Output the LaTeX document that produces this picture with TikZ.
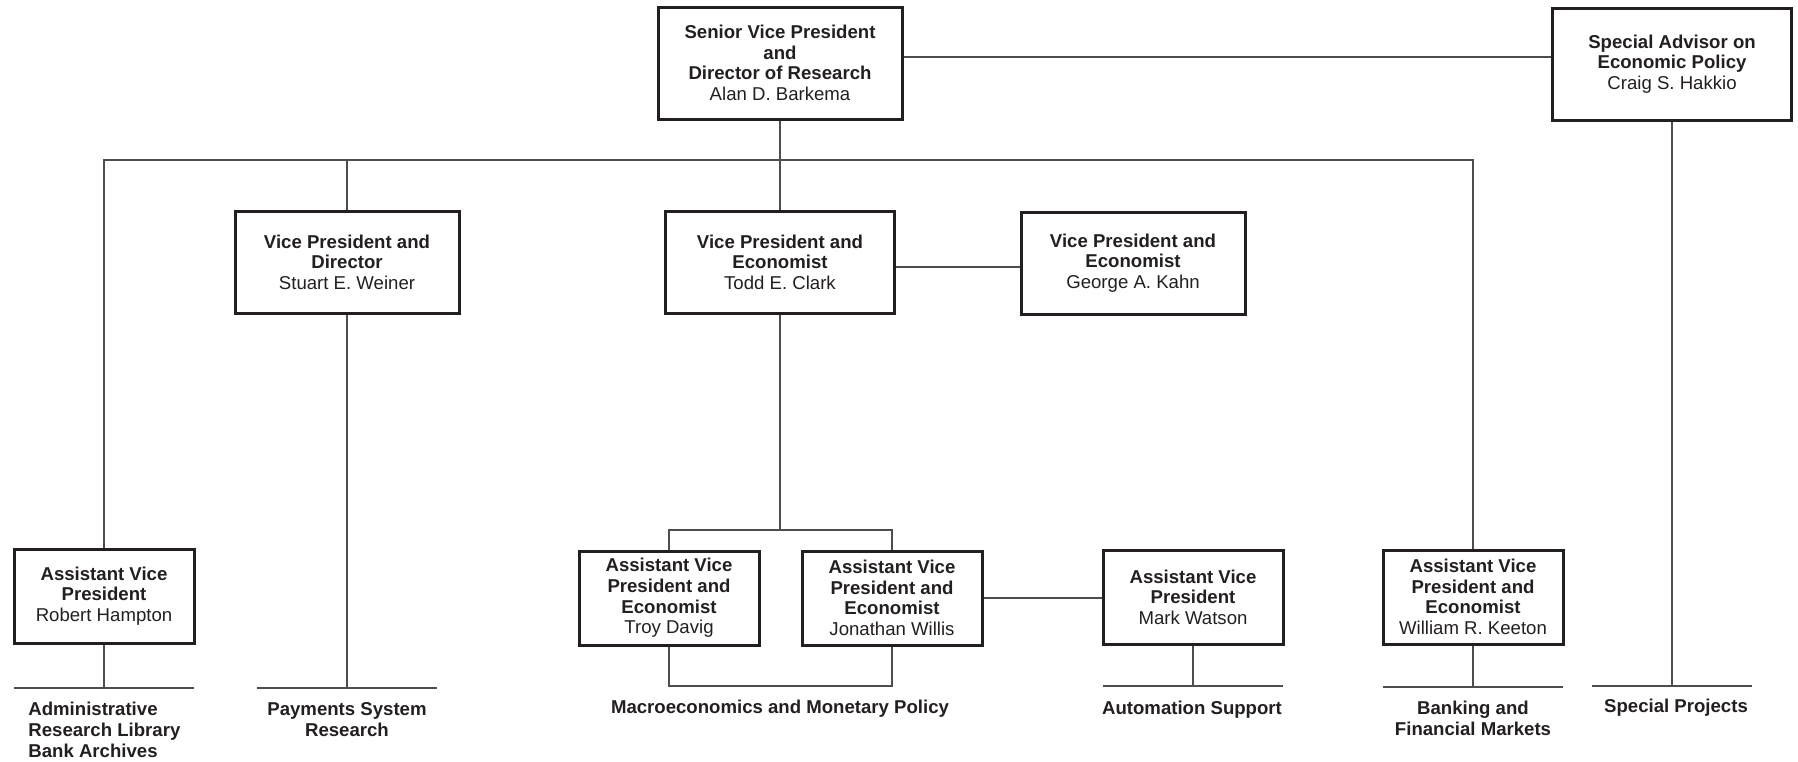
\documentclass[tikz,border=0pt]{standalone}
\usepackage{fontspec}
\setmainfont{Liberation Sans}
\definecolor{ink}{RGB}{35,31,32}
\newcommand{\who}[1]{\textmd{#1}}
\newcommand{\orgfont}{\fontsize{9.3}{10.3}\selectfont}
\tikzset{
  postbox/.style={draw=ink, line width=1.5pt, align=center, inner sep=1pt, text=ink, font=\orgfont\bfseries},
  topbox/.style={postbox, minimum width=122pt, minimum height=56pt},
  vpbox/.style={postbox, minimum width=112pt, minimum height=51pt},
  avpbox/.style={postbox, minimum width=90pt, minimum height=47pt},
  dept/.style={anchor=north, align=center, inner sep=0pt, text=ink, font=\orgfont\bfseries},
  link/.style={draw=ink!80, line width=0.65pt}
}
\begin{document}
\begin{tikzpicture}[x=0.5pt,y=-0.5pt]
  \useasboundingbox (0,0) rectangle (1798,761);
  % officers
  \node[topbox] (svp) at (780,63) {Senior Vice President\\and\\Director of Research\\\who{Alan D. Barkema}};
  \node[topbox, minimum width=119.5pt] (advisor) at (1672,64) {Special Advisor on\\Economic Policy\\\who{Craig S. Hakkio}};
  \node[vpbox] (weiner) at (347,262) {Vice President and\\Director\\\who{Stuart E. Weiner}};
  \node[vpbox, minimum width=114.5pt] (clark) at (780,262) {Vice President and\\Economist\\\who{Todd E. Clark}};
  \node[vpbox] (kahn) at (1133,263) {Vice President and\\Economist\\\who{George A. Kahn}};
  \node[avpbox] (hampton) at (104,596) {Assistant Vice\\President\\\who{Robert Hampton}};
  \node[avpbox] (davig) at (669,598) {Assistant Vice\\President and\\Economist\\\who{Troy Davig}};
  \node[avpbox] (willis) at (892,598) {Assistant Vice\\President and\\Economist\\\who{Jonathan Willis}};
  \node[avpbox] (watson) at (1193,597) {Assistant Vice\\President\\\who{Mark Watson}};
  \node[avpbox] (keeton) at (1473,597) {Assistant Vice\\President and\\Economist\\\who{William R. Keeton}};
  \coordinate (bus) at (780,160);
  \coordinate (split) at (780,530);
  \coordinate (macro) at (780,686);
  \coordinate (admin) at (104,688);
  \coordinate (payments) at (347,688);
  \coordinate (automation) at (1193,686);
  \coordinate (banking) at (1473,687);
  \coordinate (special) at (1672,686);
  % reporting lines
  \draw[link] ([yshift=3pt]svp.east) -- ([yshift=3pt]svp.east -| advisor.west);
  \draw[link] (svp.south) -- (clark.north);
  \draw[link] (hampton.north) |- (bus) -| (keeton.north);
  \draw[link] (weiner.north) -- (weiner.north |- bus);
  \draw[link] ([yshift=-2.5pt]clark.east) -- ([yshift=-2.5pt]clark.east -| kahn.west);
  \draw[link] (clark.south) -- (split);
  \draw[link] (davig.north) |- (split) -| (willis.north);
  \draw[link] (davig.south) |- (macro) -| (willis.south);
  \draw[link] (willis.east) -- (willis.east -| watson.west);
  \draw[link] (hampton.south) -- (admin);
  \draw[link] (weiner.south) -- (payments);
  \draw[link] (watson.south) -- (automation);
  \draw[link] (keeton.south) -- (banking);
  \draw[link] (advisor.south) -- (special);
  \foreach \c/\w in {admin/90, payments/90, automation/90, banking/90, special/80}
    \draw[link] (\c) ++(-\w,0) -- ++(2*\w,0);
  % departments
  \node[dept, anchor=north west, align=left] (adminlabel) at (28,702) {Administrative\\Research Library\\Bank Archives};
  \node[dept] (paylabel) at (347,702) {Payments System\\Research};
  \node[dept] (macrolabel) at (780,700) {Macroeconomics and Monetary Policy};
  \node[dept] (autolabel) at (1192,701) {Automation Support};
  \node[dept] (banklabel) at (1473,701) {Banking and\\Financial Markets};
  \node[dept] (speclabel) at (1676,699) {Special Projects};
\end{tikzpicture}
\end{document}
